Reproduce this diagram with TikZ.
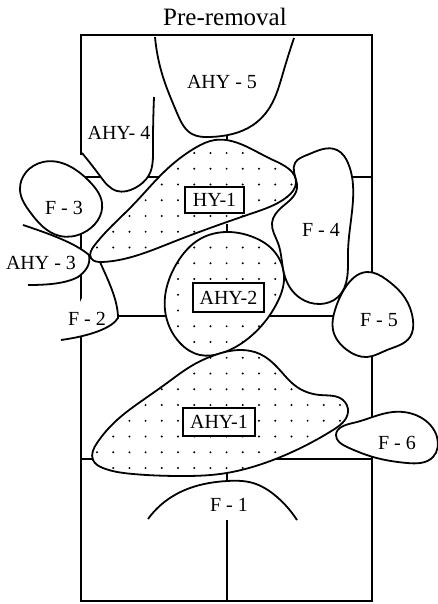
\documentclass[tikz,border=0pt]{standalone}
\usepackage{fontspec}
\setmainfont{Liberation Serif}
\usetikzlibrary{hobby}

\tikzset{%
	every blob/.style={
		draw,
		fill=white,
		line width=1.8pt,
		use Hobby shortcut
	},
	closed blob/.style={
		use Hobby shortcut,
		closed=true
	},
	wall/.style={
		line width=1.8pt
	},
	site/.style={
		font=\fontsize{20}{20}\selectfont,
		inner sep=0pt
	},
	site box/.style={
		site,
		draw,
		fill=white,
		line width=1.6pt,
		minimum height=26pt
	}
}

% white patch, dots clipped to it, then its outline
\newcommand{\dottedblob}[1]{%
	\fill [white, closed blob] #1;
	\begin{scope}
		\clip [closed blob] #1;
		\foreach \i in {0,...,15}
		\foreach \j in {0,...,20}
		\fill (97+\i*16.2,153+\j*15.75) circle (1.1pt);
	\end{scope}
	\draw [line width=1.8pt, closed blob] #1;
}

\begin{document}
\begin{tikzpicture}[x=1pt, y=-1pt]

	\useasboundingbox (0,0) rectangle (438,604);

	% walls
	\draw [wall] (81,155) -- (81,35) -- (372,35) -- (372,275);
	\draw [wall] (372,350) -- (372,601) -- (81,601) -- (81,335);
	\draw [wall] (81,230) -- (81,302);
	\draw [wall] (81,177) -- (160,177);
	\draw [wall] (350,177) -- (372,177);
	\draw [wall] (118,316) -- (168,316);
	\draw [wall] (268,316) -- (336,316);
	\draw [wall] (81,459) -- (94,459);
	\draw [wall] (270,459) -- (372,459);
	\draw [wall] (227,130) -- (227,142);
	\draw [wall] (227,224) -- (227,236);
	\draw [wall] (227,470) -- (227,482);
	\draw [wall] (227,520) -- (227,601);

	% open curves
	\draw [every blob] (155,37) .. (163,77) .. (177,113) .. (192,134) .. (210,137) .. (253,125) .. (270,107) .. (283,73) .. (294,38);
	\draw [every blob] (82,153) .. (100,176) .. (117,191) .. (135,188) .. (149,175) .. (153,150) .. (154,97);
	\draw [every blob, fill=none] (148,519) .. (167,500) .. (190,488) .. (227,481) .. (253,483) .. (277,497) .. (297,520);

	% dotted blobs
	\dottedblob{(91,258) .. (94,246) .. (133,205) .. (165,171) .. (195,148) .. (215,140) .. (243,145) .. (273,160) .. (296,183) .. (287,197) .. (253,213) .. (173,242) .. (102,262)}
	\dottedblob{(227,232) .. (253,237) .. (273,250) .. (284,280) .. (277,303) .. (250,337) .. (222,353) .. (200,355) .. (180,343) .. (165,310) .. (177,263) .. (200,239)}
	\dottedblob{(215,355) .. (240,350) .. (260,354) .. (277,367) .. (297,387) .. (320,395) .. (343,400) .. (348,412) .. (333,430) .. (273,460) .. (220,474) .. (180,476) .. (133,474) .. (103,468) .. (93,460) .. (97,443) .. (117,420) .. (143,400) .. (167,383) .. (193,365)}

	% white blobs
	\draw [every blob, closed=true] (20,190) .. (43,162) .. (90,182) .. (102,203) .. (83,233) .. (60,236) .. (30,212);
	\draw [line width=1.8pt, fill=white] (23,225) .. controls (50,234) and (75,243) .. (89,255) .. controls (91,265) and (85,272) .. (78,277) .. controls (65,284) and (45,285) .. (28,285);
	\draw [line width=1.8pt, fill=white] (100,262) .. controls (108,280) and (118,300) .. (118,318) .. controls (112,328) and (90,336) .. (61,340);
	\draw [every blob, closed=true] (295,163) .. (307,155) .. (337,150) .. (348,163) .. (353,200) .. (348,253) .. (338,297) .. (320,304) .. (300,298) .. (285,277) .. (278,243) .. (272,223) .. (282,207) .. (297,188) .. (294,172);
	\draw [every blob, closed=true] (367,272) .. (387,280) .. (405,298) .. (413,320) .. (410,337) .. (387,350) .. (367,357) .. (347,350) .. (333,330) .. (335,310) .. (345,288);
	\draw [every blob, closed=true] (336,435) .. (353,423) .. (393,412) .. (420,417) .. (437,437) .. (433,457) .. (407,463) .. (373,457) .. (347,447);

	% labels
	\node [site, font=\fontsize{25}{25}\selectfont] (title) at (225,17) {Pre-removal};
	\node [site] (ahy-5) at (222,82) {AHY - 5};
	\node [site] (ahy-4) at (119,133) {AHY- 4};
	\node [site] (f-3) at (64,208) {F - 3};
	\node [site] (ahy-3) at (41,263) {AHY - 3};
	\node [site] (f-2) at (87,319) {F - 2};
	\node [site] (f-4) at (321,230) {F - 4};
	\node [site] (f-5) at (379,320) {F - 5};
	\node [site] (f-6) at (397,443) {F - 6};
	\node [site] (f-1) at (229,505) {F - 1};
	\node [site box, minimum width=59pt] (hy-1) at (214.5,200) {HY-1};
	\node [site box, minimum width=71pt, minimum height=29pt] (ahy-2) at (228.5,297.5) {AHY-2};
	\node [site box, minimum width=72pt, minimum height=28pt] (ahy-1) at (219,422) {AHY-1};

\end{tikzpicture}
\end{document}
